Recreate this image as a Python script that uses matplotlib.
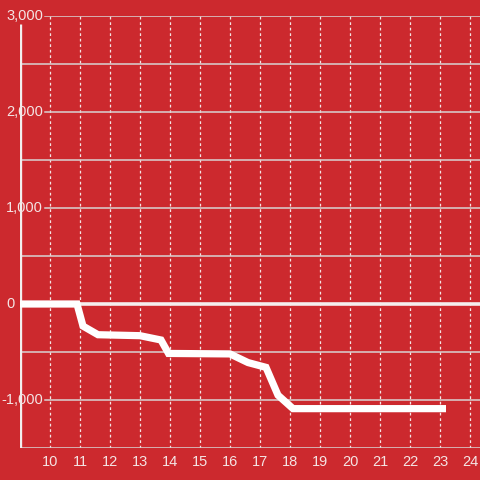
import matplotlib

matplotlib.use("Agg")
import matplotlib.pyplot as plt

# data
hours = [9.0, 10.9, 11.1, 11.6, 13.0, 13.7, 13.95, 16.0, 16.6, 17.2, 17.6, 18.1, 23.2]
values = [0, 0, -230, -320, -330, -375, -515, -520, -610, -660, -950, -1090, -1090]
x_ticks = list(range(10, 25))
y_labels = [3000, 2000, 1000, 0, -1000]
y_grid = [3000, 2500, 2000, 1500, 1000, 500, -500, -1000, -1500]

BG = "#cc292e"
FG = "#f4e4e4"
GRID = "#d8d3d3"

fig = plt.figure(figsize=(4.8, 4.8), dpi=100, facecolor=BG)
ax = fig.add_axes([20 / 480, 32 / 480, 460 / 480, 432 / 480])
ax.set_facecolor(BG)
ax.set_xlim(9, 9 + 460 / 30)
ax.set_ylim(-1500, 3000)
for spine in ax.spines.values():
    spine.set_visible(False)
ax.set_xticks([])
ax.set_yticks([])

# vertical dotted grid
for hour in x_ticks:
    ax.axvline(hour, color=FG, lw=0.9, ls=(0, (2.2, 2.2)), zorder=1)

# horizontal grid
label_end = 9 + 25 / 30
for value in y_grid:
    start = label_end if value in y_labels else 9
    ax.plot([start, 30], [value, value], color=GRID, lw=1.1, zorder=1)
ax.axhline(0, color="#f5eeee", lw=2.6, zorder=2)

# left axis bar
ax.plot([9.01, 9.01], [-1500, 2917], color="#f2eeee", lw=2.4, zorder=3, solid_capstyle="butt")

ax.plot(hours, values, color="white", lw=5.2, zorder=4, solid_joinstyle="miter", solid_capstyle="butt")

for value in y_labels:
    if value == 0:
        fig.text(15 / 480, 1 - 304 / 480, "0", color=FG, fontsize=10.5, ha="right", va="center",
                 family="Liberation Sans")
    else:
        fig.text(43 / 480, 1 - (304 - value * 0.096) / 480, f"{value:,}", color=FG, fontsize=10.5,
                 ha="right", va="center", family="Liberation Sans")

for hour in x_ticks:
    ax.text(hour, -1500 - 13.5 / 0.096, str(hour), color=FG, fontsize=10.5, ha="center", va="center",
            family="Liberation Sans", clip_on=False)

fig.savefig("out.png", dpi=100, facecolor=BG)
